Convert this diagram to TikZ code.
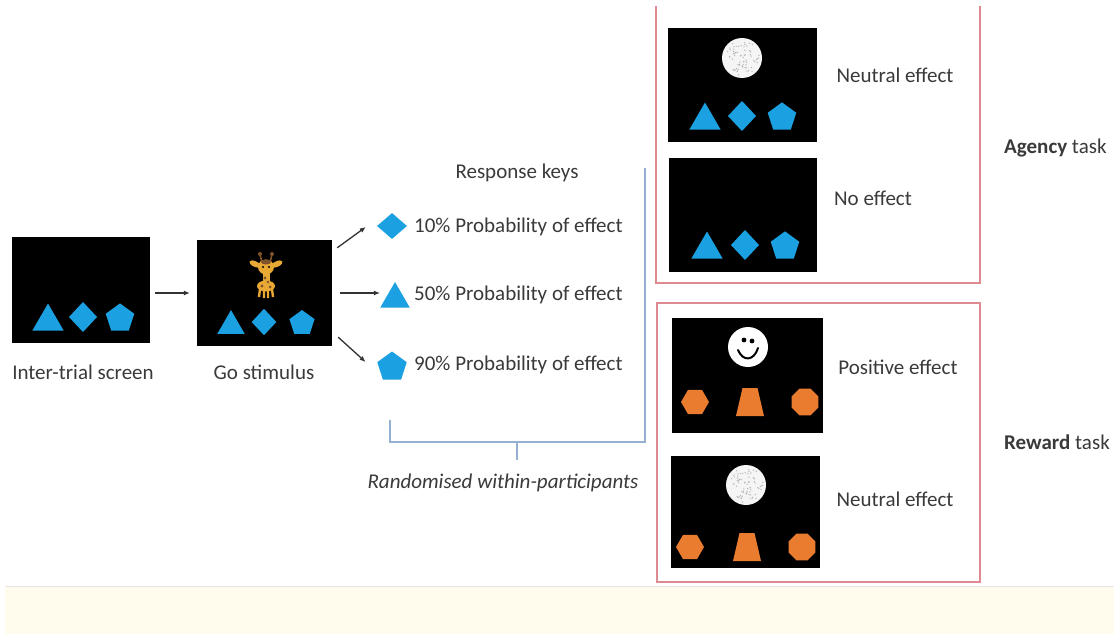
\documentclass[tikz,border=0pt]{standalone}
\usepackage{fontspec}
\setmainfont{Carlito}
\usetikzlibrary{arrows.meta,calc,shapes.geometric}
\definecolor{keyblue}{RGB}{27,161,226}
\definecolor{orng}{RGB}{234,124,48}
\definecolor{txt}{RGB}{58,58,58}
\definecolor{boxred}{RGB}{222,138,144}
\definecolor{brk}{RGB}{150,176,212}
\definecolor{band}{RGB}{255,252,238}
\definecolor{giryel}{RGB}{232,168,52}
\definecolor{girbrn}{RGB}{128,82,42}

% blue response-key shapes, centred on the given point
\newcommand\btri[3]{\fill[keyblue,shift={(#1,#2)},scale=#3] (0,-13.5) -- (15.6,13.5) -- (-15.6,13.5) -- cycle;}
\newcommand\bdia[3]{\fill[keyblue,shift={(#1,#2)},scale=#3] (0,-15) -- (14,0) -- (0,15) -- (-14,0) -- cycle;}
\newcommand\bpent[3]{\fill[keyblue,shift={(#1,#2)},scale=#3] (0,-13.6) -- (14.27,-3.24) -- (8.82,13.54) -- (-8.82,13.54) -- (-14.27,-3.24) -- cycle;}
\newcommand\bluerow[5]{\btri{#1}{#4}{#5}\bdia{#2}{#4}{#5}\bpent{#3}{#4}{#5}}
% orange reward-task shapes
\newcommand\ohex[2]{\fill[orng,shift={(#1,#2)}] (14,0) -- (7,12.1) -- (-7,12.1) -- (-14,0) -- (-7,-12.1) -- (7,-12.1) -- cycle;}
\newcommand\otrap[2]{\fill[orng,shift={(#1,#2)}] (-7.5,-14) -- (7.5,-14) -- (14,14) -- (-14,14) -- cycle;}
\newcommand\ooct[2]{\fill[orng,shift={(#1,#2)}] (13.4,5.55) -- (5.55,13.4) -- (-5.55,13.4) -- (-13.4,5.55) -- (-13.4,-5.55) -- (-5.55,-13.4) -- (5.55,-13.4) -- (13.4,-5.55) -- cycle;}
\newcommand\orangerow[4]{\ohex{#1}{#4}\otrap{#2}{#4}\ooct{#3}{#4}}
% speckled neutral stimulus
\newcommand\speckle[2]{%
  \fill[black!4] (#1,#2) circle (20);
  \pgfmathsetseed{11}
  \foreach \i in {1,...,70}{%
    \pgfmathsetmacro\ang{rnd*360}\pgfmathsetmacro\rad{sqrt(rnd)*17.5}%
    \fill[black!30] ([shift={(\ang:\rad)}]#1,#2) circle (0.7);}}

\begin{document}
\begin{tikzpicture}[x=1pt,y=-1pt,
  screen/.style={fill=black,draw=none,rectangle,inner sep=0},
  lbl/.style={font=\fontsize{21}{24}\selectfont,text=txt,inner sep=0},
  arr/.style={draw=black!80,line width=1.3,-{Latex[length=6,width=5]}},
  keyshape/.style={fill=keyblue,draw=none,inner sep=0},
  bracket/.style={draw=brk,line width=1.3},
  taskbox/.style={draw=boxred,line width=1.5}]
\useasboundingbox (0,0) rectangle (1114,634);
\fill[white] (0,0) rectangle (1114,634);

% bottom strip
\fill[band] (5,587) rectangle (1114,634);
\draw[black!10,line width=1] (5,586.5) -- (1114,586.5);

% inter-trial screen and go stimulus
\node[screen,minimum width=138,minimum height=106] (iti) at (81,290) {};
\bluerow{48}{83}{120}{317}{1}
\node[lbl] (itilbl) at (83,372) {Inter-trial screen};

\node[screen,minimum width=135,minimum height=106] (go) at (264.5,293) {};
\bluerow{231}{264}{302}{322}{0.88}
\node[lbl] (golbl) at (264,372) {Go stimulus};

% giraffe go cue
\begin{scope}[shift={(266,275)}]
  \draw[girbrn,line width=1.6] (-4,-12) -- (-6,-21) (4,-12) -- (6,-21);
  \fill[girbrn] (-6,-21) circle (2) (6,-21) circle (2);
  \fill[giryel,rotate around={-25:(-11,-11)}] (-11,-11) ellipse (6 and 2.8);
  \fill[giryel,rotate around={25:(11,-11)}] (11,-11) ellipse (6 and 2.8);
  \fill[giryel] (0,-8) ellipse (8 and 7.5);
  \fill[girbrn] (0,-13) ellipse (5 and 2.5);
  \fill[black] (-3,-8) circle (1.2) (3,-8) circle (1.2);
  \fill[giryel] (-3.5,-2) rectangle (3.5,10);
  \fill[giryel] (0,11) ellipse (9 and 5.5);
  \fill[girbrn] (-1,3) circle (1.6) (2,7) circle (1.4) (-4,11) circle (1.6) (4,12) circle (1.5);
  \draw[giryel,line width=2.4] (-6,14) -- (-7,22) (-2,15) -- (-2,23) (2,15) -- (2,23) (6,14) -- (7,22);
\end{scope}

\draw[arr,shorten <=5,shorten >=7] (iti.east |- go.west) -- (go.west);

% response keys
\node[lbl] (rk) at (517,173) {Response keys};
\node[diamond,keyshape,minimum width=30,minimum height=26] (k10) at (392,226) {};
\node[regular polygon,regular polygon sides=3,keyshape,minimum size=34] (k50) at (395,299) {};
\node[regular polygon,regular polygon sides=5,keyshape,minimum size=31] (k90) at (392,367) {};
\node[lbl,anchor=west] (p10) at (414,227) {10\% Probability of effect};
\node[lbl,anchor=west] (p50) at (414,295) {50\% Probability of effect};
\node[lbl,anchor=west] (p90) at (414,365) {90\% Probability of effect};

\coordinate (g1) at ($(go.north east)+(5,8)$);
\coordinate (g2) at ($(go.east)+(8,0)$);
\coordinate (g3) at ($(go.south east)+(6,-9)$);
\coordinate (g2e) at ($(g2 -| k50.west)+(-5,0)$);
\draw[arr] (g1) -- ($(k10.west)+(-11,1)$);
\draw[arr] (g2) -- (g2e);
\draw[arr] (g3) -- ($(k90.west)+(-13,-5)$);

% randomisation bracket
\coordinate (bl) at (390,420);
\coordinate (bm) at (517,442);
\coordinate (br) at (645,168);
\draw[bracket] (bl) -- (bl |- bm) -- (br |- bm) -- (br);
\draw[bracket] (bm) -- ++(0,18);
\node[lbl] (rand) at (503,483) {\itshape Randomised within-participants};

% agency task panel
\draw[taskbox] (656,6) -- (656,283) -- (980,283) -- (980,6);
\node[screen,minimum width=149,minimum height=114] (agn) at (742.5,85) {};
\speckle{742}{58}
\bluerow{705}{742}{782}{116}{1}
\node[lbl] (ne1) at (895,75) {Neutral effect};
\node[screen,minimum width=148,minimum height=114] (ago) at (743,215) {};
\bluerow{707}{745}{785}{245}{1}
\node[lbl] (noe) at (873,198) {No effect};
\node[lbl,anchor=west] (ag) at (1004,148) {\textbf{Agency} task};

% reward task panel
\draw[taskbox] (657,303) rectangle (980,582);
\node[screen,minimum width=151,minimum height=115] (rwp) at (747.5,375.5) {};
\fill[white] (748,347) circle (20);
\fill[black] (744,340) circle (2.4) (752,341) circle (2.4);
\draw[black,line width=2,line cap=round] (738,350) .. controls (743,362) and (754,361) .. (758,348);
\orangerow{695}{750}{805}{402}
\node[lbl] (pos) at (898,367) {Positive effect};
\node[screen,minimum width=149,minimum height=112] (rwn) at (745.5,512) {};
\speckle{746}{485}
\orangerow{690}{747}{802}{547}
\node[lbl] (ne2) at (895,499) {Neutral effect};
\node[lbl,anchor=west] (rw) at (1004,442) {\textbf{Reward} task};
\end{tikzpicture}
\end{document}
